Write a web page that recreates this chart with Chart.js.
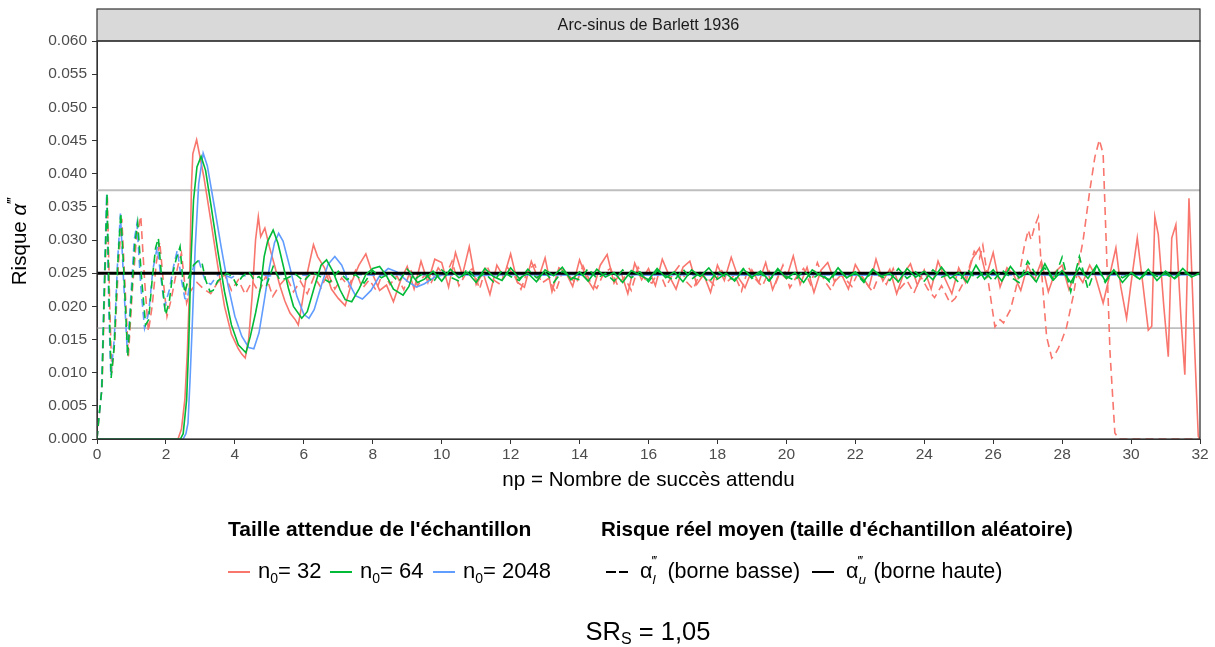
<!DOCTYPE html>
<html>
<head>
<meta charset="utf-8">
<script src="https://cdn.jsdelivr.net/npm/chart.js@4.4.1/dist/chart.umd.min.js"></script>
<style>
  html, body { margin: 0; background: #fff; }
  canvas { display: block; }
</style>
</head>
<body>
<canvas id="riskChart" width="1215" height="647"></canvas>
<script>
const FONT = '"Liberation Sans", Arial, sans-serif';

// texts
const panelTitle = 'Arc-sinus de Barlett 1936';
const xTitle = 'np = Nombre de succès attendu';
const legendTitles = ["Taille attendue de l'échantillon", "Risque réel moyen (taille d'échantillon aléatoire)"];
const sampleSizes = ['32', '64', '2048'];
const boundLabels = ['(borne basse)', '(borne haute)'];
const srValue = '1,05';

// axes
const xRange = [0, 32], xStep = 2;
const yRange = [0, 0.06], yStep = 0.005;
const alphaNominal = 0.025;
const toleranceLines = [0.0375, 0.0167];

// risk values are in units of 1e-4 (250 = 0.025)
// [np, value] pairs where the curve has structure, plain lists on a regular np step elsewhere
const redUpHead = [[0,0],[2.35,0],[2.45,15],[2.55,60],[2.62,130],[2.68,220],[2.74,380],[2.78,430],[2.89,451],[2.97,430],[3.1,395],[3.3,330],[3.5,262],[3.7,200],[3.9,158],[4.1,136],[4.2,128],[4.3,122],[4.4,150],[4.5,215],[4.6,300],[4.68,335],[4.75,305],[4.87,318],[5.0,290],[5.15,262],[5.3,232],[5.45,208],[5.6,190],[5.75,180],[5.84,172],[5.95,205],[6.05,238],[6.15,262],[6.28,293]];
const redUpBody = [275,258,226,212,201,238,262,279,248,224,232,207,238,260,226,268,236,271,
  266,229,281,247,290,233,251,218,262,244, 279,236,229,268,241,273,222,258,251,230,
  270,243,226,262,278,235,252,219,265,240, 257,231,271,246,226,259,268,233,248,221,
  262,239,274,244,228,255,236,266,225,251, 242,276,233,259,221,254,266,237,248,226,
  263,245,229,271,238,256,219,249,264,232, 255,226,268,242,219,258,236,272,288,245,
  281,229,258,247,224,262,240,268,222,252, 262];
const redUpTail = [[28.2,225],[28.4,252],[28.6,236],[28.8,262],[28.95,248],[29.19,205],[29.35,240],[29.56,288],[29.7,230],[29.87,182],[30.0,235],[30.18,303],[30.35,230],[30.5,164],[30.6,170],[30.69,335],[30.79,308],[30.95,200],[31.08,124],[31.18,303],[31.3,323],[31.45,180],[31.56,97],[31.68,363],[31.85,130],[31.95,4],[32,0]];

const redLoHead = [[0,0],[0.05,28],[0.15,80],[0.22,220],[0.3,368],[0.37,200],[0.43,100],[0.52,150],[0.62,262],[0.72,332],[0.8,245],[0.91,124],[1.02,220],[1.14,300],[1.27,336],[1.38,240],[1.49,162],[1.6,200],[1.72,265],[1.82,297],[1.92,240],[2.03,185],[2.15,210],[2.28,245],[2.38,268],[2.45,280],[2.55,232],[2.6,205]];
const redLoBody = [222,236,226,219,236,248,224,240,218,238,221,246,215,232,244,222,238,219,245,228,250,226,243,230,254,227,240,224,252,233,246,225,255,231,247,236,258,
  244,268,231,249,257,226,262,240,233,259, 247,226,255,263,235,242,221,252,246,234,
  261,238,227,250,257,232,244,224,259,241, 235,254,229,248,262,237,226,251,243,232,
  256,238,247,223,259,241,230,253,236,262, 228,245,257,233,266,239,224,250,242,230,
  253,236,222,248,233,257,227,239,220,245, 226,213,231];
const redLoTail = [[24.75,205],[24.9,212],[25.1,232],[25.3,258],[25.45,283],[25.6,272],[25.7,292],[25.85,240],[26.05,169],[26.2,180],[26.3,175],[26.5,195],[26.65,225],[26.78,255],[26.9,290],[27.02,315],[27.1,300],[27.2,320],[27.31,335],[27.4,255],[27.55,154],[27.7,122],[27.8,128],[27.89,137],[28.0,150],[28.13,169],[28.32,215],[28.45,255],[28.61,300],[28.79,370],[28.95,425],[29.08,451],[29.19,430],[29.29,280],[29.39,130],[29.53,9],[29.65,0],[32,0]];

const greenUpHead = [[0,0],[2.42,0],[2.5,8],[2.6,59],[2.66,140],[2.72,260],[2.8,360],[2.9,410],[3.02,426],[3.15,405],[3.3,355],[3.5,285],[3.7,222],[3.9,172],[4.1,142],[4.32,130],[4.45,155],[4.6,190],[4.75,230],[4.85,275],[4.95,298],[5.11,315],[5.25,295],[5.4,262],[5.55,228],[5.7,200],[5.94,182],[6.1,192],[6.3,228],[6.5,262],[6.66,270],[6.85,252],[7.05,225],[7.2,210],[7.39,207],[7.6,226],[7.8,248],[8.0,257],[8.2,260],[8.4,246],[8.6,226],[8.88,217],[9.05,230],[9.15,246],[9.3,236]];
const greenUpBody = [241,253,238,256,243,251,236,257,245,239, 258,242,250,237,255,246,259,240,252,238,
  256,244,251,236,254,247,240,257,243,252, 237,255,245,258,241,250,238,256,244,253,
  239,257,242,251,236,255,246,240,258,243, 252,238,256,245,250,237,257,244,253,240,
  259,242,251,236,262,241,255,238,260,243, 252,237,264,240,254,236,258,242,262,238,
  255,236,251,241,256,239,253,242,257,244, 250];

const greenLoHead = [[0,0],[0.05,30],[0.14,75],[0.2,200],[0.29,370],[0.35,210],[0.41,92],[0.5,140],[0.6,262],[0.69,341],[0.78,250],[0.89,124],[1.0,215],[1.1,295],[1.18,326],[1.3,238],[1.41,172],[1.5,180],[1.6,240],[1.7,288],[1.78,303],[1.88,240],[1.99,187],[2.1,208],[2.2,250],[2.3,272],[2.41,290],[2.48,245],[2.55,220],[2.65,242],[2.8,262],[2.92,268],[3.04,267],[3.15,240],[3.28,222],[3.37,224],[3.5,238],[3.65,244],[3.76,250],[3.93,245],[4.05,232],[4.2,244],[4.4,253],[4.55,240],[4.7,245],[4.92,232],[5.11,260],[5.3,240]];
const greenLoBody = [242,249,238,252,244,236,253,240,248,235, 254,243,250,237,256,242,251,236,255,244,
  238,257,241,250,237,254,245,239,256,243, 251,236,253,244,240,257,242,250,238,255,
  243,252,237,254,246,239,256,241,251,236, 253,244,240,257,242,250,238,255,245,239,
  254,241,251,237,256,243,250,236,254,245, 239,257,242,252,238,255,244,249,236,256,
  241,253,238,255,244,236,268,247,258,238, 274,222,275,226,262,236,254,243,251,240,
  253,245,249,241,252,246,250];

const blueUp = [[0,0],[2.5,0],[2.58,8],[2.64,24],[2.7,90],[2.76,167],[2.85,290],[2.95,385],[3.08,431],[3.2,412],[3.4,352],[3.6,290],[3.8,232],[4.0,185],[4.2,155],[4.4,138],[4.55,136],[4.7,160],[4.85,208],[5.0,258],[5.15,296],[5.27,310],[5.4,298],[5.6,258],[5.8,215],[6.0,188],[6.15,182],[6.3,195],[6.5,230],[6.7,263],[6.9,275],[7.1,262],[7.3,236],[7.5,216],[7.7,211],[7.95,224],[8.2,246],[8.45,257],[8.7,252],[9.0,238],[9.27,229],[9.5,234],[9.8,244],[10.2,250],[10.6,248],[11,246],[12,248],[13,247],[14,248],[15,249],[16,247],[17,248],[18,248],[19,247],[20,248],[21,249],[22,247],[23,248],[24,248],[25,247],[26,248],[27,248],[28,247],[29,248],[30,248],[31,247],[32,248]];
const blueLo = [[0,0],[0.05,30],[0.13,70],[0.2,210],[0.28,370],[0.34,200],[0.4,95],[0.5,150],[0.6,270],[0.68,340],[0.77,240],[0.88,130],[1.0,230],[1.08,300],[1.16,325],[1.27,230],[1.38,167],[1.5,190],[1.62,255],[1.75,290],[1.85,245],[1.96,200],[2.1,225],[2.22,260],[2.33,285],[2.45,240],[2.55,212],[2.62,210],[2.72,245],[2.85,268],[2.95,270],[3.05,252],[3.15,238],[3.3,233],[3.45,244],[3.6,252],[3.75,246],[3.9,243],[4.1,250],[4.3,246],[4.6,249],[5.0,246],[5.5,249],[6,247],[7,249],[8,247],[9,248],[10,247],[12,248],[14,247],[16,248],[18,247],[20,248],[22,247],[24,248],[26,247],[28,248],[30,247],[32,248]];

const RED = '#F8766D', GREEN = '#00BA38', BLUE = '#619CFF';

const pts = pairs => pairs.map(([x, v]) => ({ x, y: v / 1e4 }));
const run = (x0, dx, vals) => vals.map((v, i) => ({ x: Math.round((x0 + i * dx) * 100) / 100, y: v / 1e4 }));
const flat = (y) => [{ x: xRange[0], y }, { x: xRange[1], y }];

function line(label, data, color, width, dash) {
    return {
        label, data,
        borderColor: color,
        borderWidth: width,
        borderDash: dash || [],
        pointRadius: 0,
        tension: 0,
        fill: false
    };
}

const DASH = [8, 5];
// first dataset is drawn on top
const datasets = [
    line('n0=64 haute', [...pts(greenUpHead), ...run(9.5, 0.25, greenUpBody)], GREEN, 1.6),
    line('n0=64 basse', [...pts(greenLoHead), ...run(5.5, 0.25, greenLoBody)], GREEN, 1.6, DASH),
    line('alpha', flat(alphaNominal), '#000', 3),
    line('n0=2048 haute', pts(blueUp), BLUE, 1.6),
    line('n0=2048 basse', pts(blueLo), BLUE, 1.6, DASH),
    line('n0=32 haute', [...pts(redUpHead), ...run(6.4, 0.2, redUpBody), ...pts(redUpTail)], RED, 1.6),
    line('n0=32 basse', [...pts(redLoHead), ...run(2.7, 0.2, redLoBody), ...pts(redLoTail)], RED, 1.6, DASH),
    ...toleranceLines.map(v => line('ref', flat(v), '#bebebe', 1.8))
];

function txt(ctx, s, x, y, size, style) {
    ctx.font = (style || '') + ' ' + size + 'px ' + FONT;
    ctx.fillText(s, x, y);
    return x + ctx.measureText(s).width;
}

function keyLine(ctx, x, y, color, dash) {
    ctx.save();
    ctx.strokeStyle = color;
    ctx.lineWidth = 2;
    ctx.setLineDash(dash || []);
    ctx.beginPath();
    ctx.moveTo(x, y);
    ctx.lineTo(x + 22, y);
    ctx.stroke();
    ctx.restore();
}

const decorations = {
    id: 'decorations',
    afterDraw(chart) {
        const ctx = chart.ctx;
        const a = chart.chartArea;
        ctx.save();
        ctx.textBaseline = 'middle';

        // strip with panel title
        ctx.fillStyle = '#d9d9d9';
        ctx.fillRect(a.left, 9, a.right - a.left, a.top - 9);
        ctx.strokeStyle = '#333';
        ctx.lineWidth = 1.2;
        ctx.strokeRect(a.left, 9, a.right - a.left, a.top - 9);
        ctx.fillStyle = '#1a1a1a';
        ctx.textAlign = 'center';
        txt(ctx, panelTitle, (a.left + a.right) / 2, 25.5, 16.2);

        // panel border
        ctx.strokeStyle = '#333';
        ctx.lineWidth = 1.3;
        ctx.strokeRect(a.left, a.top, a.right - a.left, a.bottom - a.top);

        // x title
        ctx.fillStyle = '#000';
        txt(ctx, xTitle, (a.left + a.right) / 2, 480, 20.6);

        // y title
        ctx.save();
        ctx.translate(20, (a.top + a.bottom) / 2);
        ctx.rotate(-Math.PI / 2);
        ctx.textAlign = 'left';
        ctx.font = '20.6px ' + FONT;
        let w = ctx.measureText('Risque ').width;
        ctx.font = 'italic 20.6px ' + FONT;
        w += ctx.measureText('α').width + 9;
        let tx = -w / 2;
        tx = txt(ctx, 'Risque ', tx, 0, 20.6);
        tx = txt(ctx, 'α', tx, 0, 20.6, 'italic');
        txt(ctx, '‴', tx + 1, -7, 15);
        ctx.restore();

        // legend
        ctx.textAlign = 'left';
        ctx.fillStyle = '#000';
        txt(ctx, legendTitles[0], 228, 530, 21, 'bold');
        txt(ctx, legendTitles[1], 601, 530, 20.6, 'bold');

        const y = 572;
        [RED, GREEN, BLUE].forEach((c, i) => {
            const kx = [228, 330, 433][i];
            keyLine(ctx, kx, y, c);
            let t = kx + 30;
            t = txt(ctx, 'n', t, y, 22);
            t = txt(ctx, '0', t, y + 7, 14);
            txt(ctx, '= ' + sampleSizes[i], t, y, 22);
        });

        [['l', [10, 3], 606], ['u', [], 812]].forEach(([sub, dash, kx], i) => {
            keyLine(ctx, kx, y, '#000', dash);
            let t = kx + 34;
            t = txt(ctx, 'α', t, y, 21.5);
            txt(ctx, sub, t, y + 8, 13.5, 'italic');
            txt(ctx, '‴', t, y - 10, 12.5);
            t += 9;
            txt(ctx, ' ' + boundLabels[i], t, y, 21.5);
        });

        // SR_S value
        ctx.font = '25.5px ' + FONT;
        const w1 = ctx.measureText('SR').width;
        const w3 = ctx.measureText(' = ' + srValue).width;
        ctx.font = '16px ' + FONT;
        const w2 = ctx.measureText('S').width;
        let sx = 648 - (w1 + w2 + w3) / 2;
        sx = txt(ctx, 'SR', sx, 633, 25.5);
        sx = txt(ctx, 'S', sx, 640, 16);
        txt(ctx, ' = ' + srValue, sx, 633, 25.5);

        ctx.restore();
    }
};

new Chart(document.getElementById('riskChart'), {
    type: 'line',
    data: { datasets },
    options: {
        responsive: false,
        animation: false,
        devicePixelRatio: 1,
        layout: { padding: { top: 41, right: 15, bottom: 0, left: 0 } },
        plugins: { legend: { display: false }, tooltip: { enabled: false } },
        scales: {
            x: {
                type: 'linear',
                min: xRange[0], max: xRange[1],
                afterFit: s => { s.height = 208; },
                ticks: { stepSize: xStep, color: '#4d4d4d', font: { size: 15.5, family: FONT }, padding: 1, maxRotation: 0 },
                grid: { drawOnChartArea: false, tickLength: 5, color: '#333' },
                border: { color: '#333' }
            },
            y: {
                min: yRange[0], max: yRange[1],
                afterFit: s => { s.width = 97; },
                ticks: { stepSize: yStep, color: '#4d4d4d', font: { size: 15.5, family: FONT }, padding: 5,
                         callback: v => v.toFixed(3) },
                grid: { drawOnChartArea: false, tickLength: 5, color: '#333' },
                border: { color: '#333' }
            }
        }
    },
    plugins: [decorations]
});
</script>
</body>
</html>
